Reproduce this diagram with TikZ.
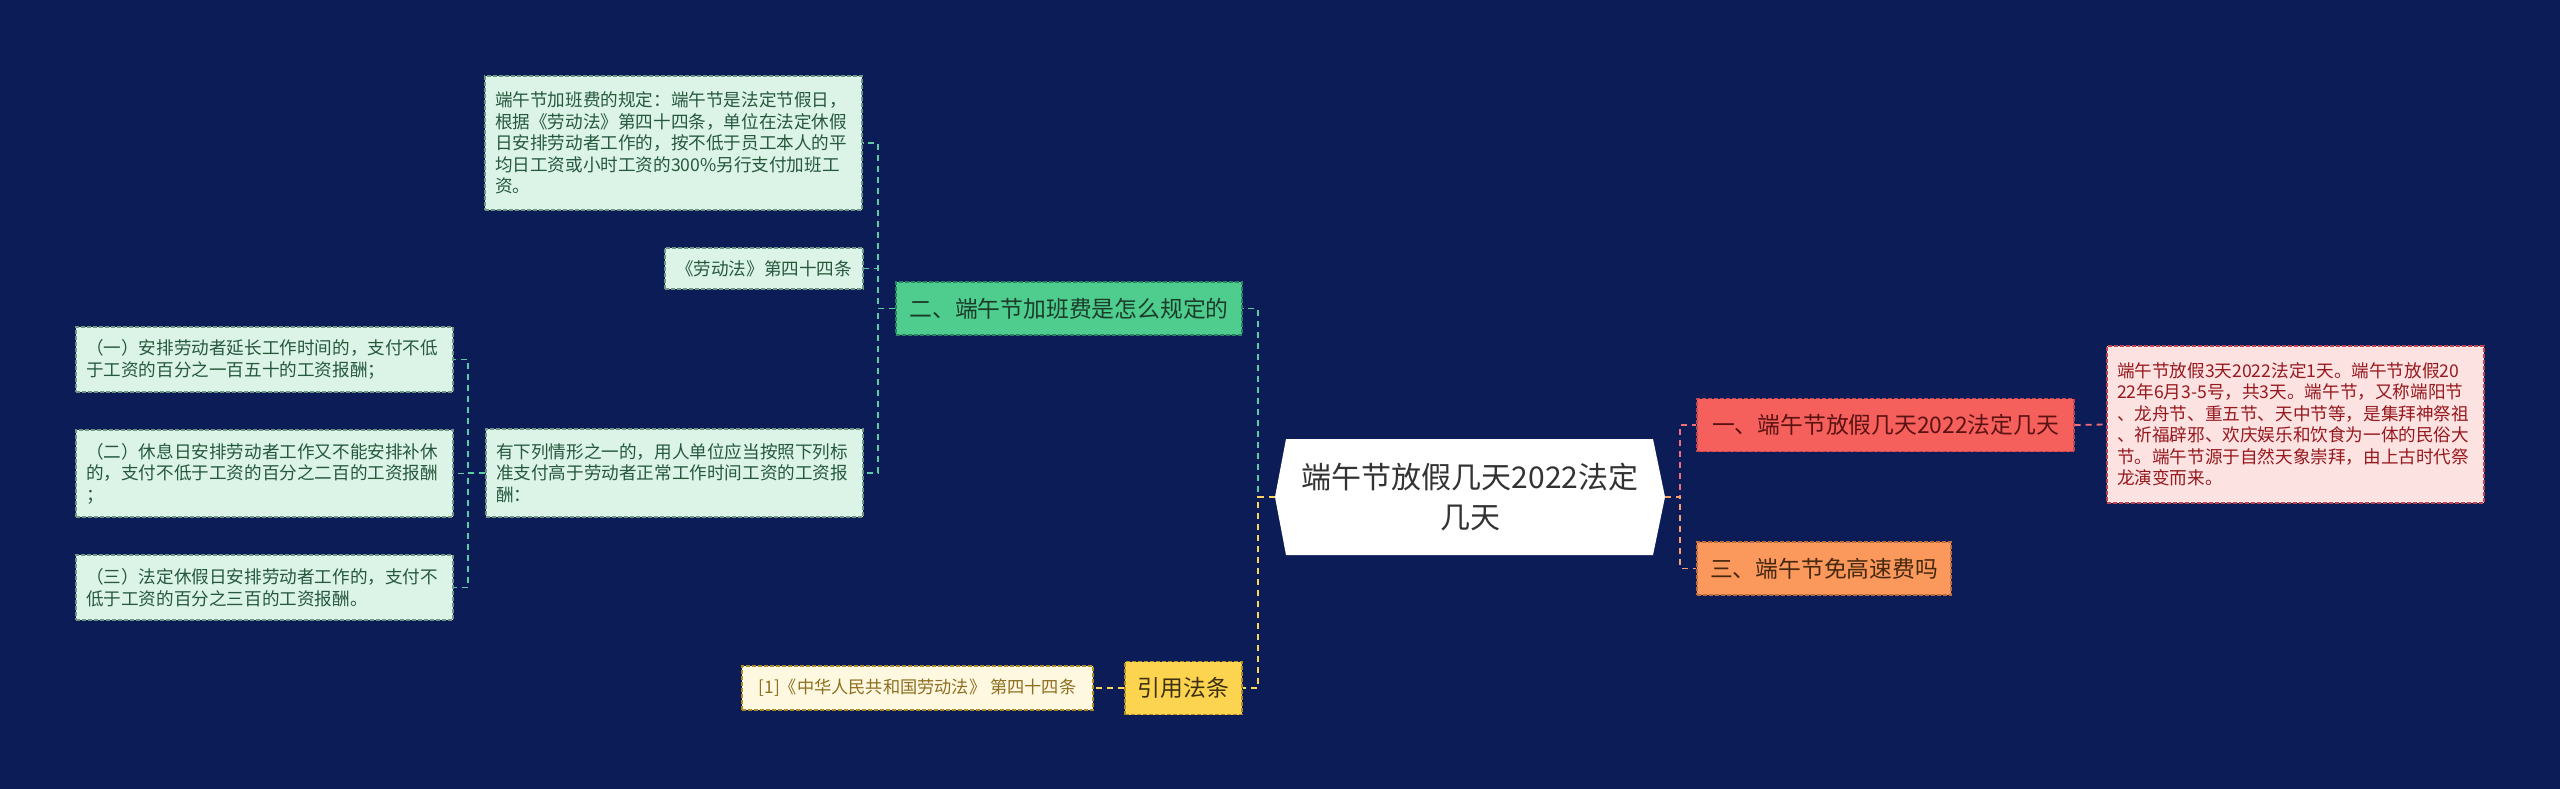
\documentclass[tikz,border=0pt]{standalone}
\usepackage{fontspec}
\newfontfamily\cjk{Noto Sans CJK SC}
\definecolor{bgc}{RGB}{12,28,86}
\definecolor{mint}{RGB}{220,244,231}
\definecolor{mintdraw}{RGB}{110,150,130}
\definecolor{minttext}{RGB}{38,88,62}
\definecolor{greenfill}{RGB}{78,205,142}
\definecolor{greendraw}{RGB}{40,130,95}
\definecolor{greenline}{RGB}{90,205,165}
\definecolor{greentext}{RGB}{28,60,42}
\definecolor{redfill}{RGB}{246,96,92}
\definecolor{reddraw}{RGB}{190,70,80}
\definecolor{redline}{RGB}{240,110,120}
\definecolor{redtext}{RGB}{90,18,18}
\definecolor{pinkfill}{RGB}{253,226,226}
\definecolor{pinktext}{RGB}{150,25,30}
\definecolor{orfill}{RGB}{251,152,92}
\definecolor{ordraw}{RGB}{190,110,60}
\definecolor{orline}{RGB}{250,160,110}
\definecolor{ortext}{RGB}{70,40,15}
\definecolor{yefill}{RGB}{253,212,80}
\definecolor{yedraw}{RGB}{170,140,40}
\definecolor{yeline}{RGB}{250,215,90}
\definecolor{yetext}{RGB}{60,48,15}
\definecolor{creamfill}{RGB}{255,248,225}
\definecolor{creamtext}{RGB}{140,110,30}
\begin{document}
\begin{tikzpicture}[x=1pt,y=-1pt,
  box/.style={rectangle,inner sep=0pt,dashed,dash pattern=on 4pt off 2pt,line width=1.2pt,font=\cjk},
  small/.style={box,fill=mint,draw=mintdraw,text=minttext,align=left,font=\cjk\fontsize{17.6}{21.5}\selectfont},
  big/.style={box,font=\cjk\fontsize{22.8}{27}\selectfont,minimum height=53pt},
  conn/.style={line width=1.8pt,dash pattern=on 6pt off 5pt},
]
\useasboundingbox (0,0) rectangle (2560,789);
\fill[bgc] (0,0) rectangle (2560,789);

% central hexagon
\fill[white] (1275,497) -- (1286,439) -- (1653,439) -- (1665,497) -- (1653,555) -- (1286,555) -- cycle;
\node[font=\cjk\fontsize{30}{40}\selectfont,text=black!80,align=center,minimum width=390pt,minimum height=116pt,inner sep=0pt] (hex) at (1470,497) {端午节放假几天2022法定\\几天};

% right side
\node[big,fill=redfill,draw=reddraw,text=redtext,minimum width=377pt] (red) at (1885.5,425) {一、端午节放假几天2022法定几天};
\node[big,fill=orfill,draw=ordraw,text=ortext,minimum width=254pt] (ora) at (1824,568.5) {三、端午节免高速费吗};
\node[box,fill=pinkfill,draw=reddraw,text=pinktext,align=left,font=\cjk\fontsize{17.6}{21.5}\selectfont,text width=357pt,minimum height=157pt,inner xsep=10pt] (pink) at (2295.5,424.5) {端午节放假3天2022法定1天。端午节放假20\\22年6月3-5号，共3天。端午节，又称端阳节\\、龙舟节、重五节、天中节等，是集拜神祭祖\\、祈福辟邪、欢庆娱乐和饮食为一体的民俗大\\节。端午节源于自然天象崇拜，由上古时代祭\\龙演变而来。};

% left side
\node[big,fill=greenfill,draw=greendraw,text=greentext,minimum width=346pt] (grn) at (1069,308.5) {二、端午节加班费是怎么规定的};
\node[big,fill=yefill,draw=yedraw,text=yetext,minimum width=117pt] (yel) at (1183.5,688) {引用法条};
\node[box,fill=creamfill,draw=yedraw,text=creamtext,font=\cjk\fontsize{17.2}{21}\selectfont,minimum width=351pt,minimum height=44pt] (cite) at (917.5,688) {[1]《中华人民共和国劳动法》 第四十四条};

\node[small,text width=357pt,inner xsep=10pt,minimum height=134pt] (t1) at (673.5,143) {端午节加班费的规定：端午节是法定节假日，\\根据《劳动法》第四十四条，单位在法定休假\\日安排劳动者工作的，按不低于员工本人的平\\均日工资或小时工资的300\%另行支付加班工\\资。};
\node[small,align=center,minimum width=198pt,minimum height=41pt] (t2) at (764,268.5) {《劳动法》第四十四条};
\node[small,text width=357pt,inner xsep=10pt,minimum height=88pt] (t3) at (674.5,473) {有下列情形之一的，用人单位应当按照下列标\\准支付高于劳动者正常工作时间工资的工资报\\酬：};
\node[small,text width=357pt,inner xsep=10pt,minimum height=65pt] (s1) at (264.5,359.5) {（一）安排劳动者延长工作时间的，支付不低\\于工资的百分之一百五十的工资报酬；};
\node[small,text width=357pt,inner xsep=10pt,minimum height=87pt] (s2) at (264.5,473.5) {（二）休息日安排劳动者工作又不能安排补休\\的，支付不低于工资的百分之二百的工资报酬\\；};
\node[small,text width=357pt,inner xsep=10pt,minimum height=65pt] (s3) at (264.5,587.5) {（三）法定休假日安排劳动者工作的，支付不\\低于工资的百分之三百的工资报酬。};

% connectors right
\draw[conn,redline] (hex.east) -- (1680,497) |- (red.west);
\draw[conn,redline] (red.east) -- (pink.west);
\draw[conn,orline] (hex.east) -- (1680,497) |- (ora.west);
% connectors left
\draw[conn,greenline] (hex.west) -- (1258,497) |- (grn.east);
\draw[conn,yeline] (hex.west) -- (1258,497) |- (yel.east);
\draw[conn,yeline] (yel.west) -- (cite.east);
\draw[conn,greenline] (grn.west) -- (878,308.5) |- (t1.east);
\draw[conn,greenline] (grn.west) -- (878,308.5) |- (t2.east);
\draw[conn,greenline] (grn.west) -- (878,308.5) |- (t3.east);
\draw[conn,greenline] (t3.west) -- (468,473) |- (s1.east);
\draw[conn,greenline] (t3.west) -- (468,473) |- (s2.east);
\draw[conn,greenline] (t3.west) -- (468,473) |- (s3.east);
\end{tikzpicture}
\end{document}
